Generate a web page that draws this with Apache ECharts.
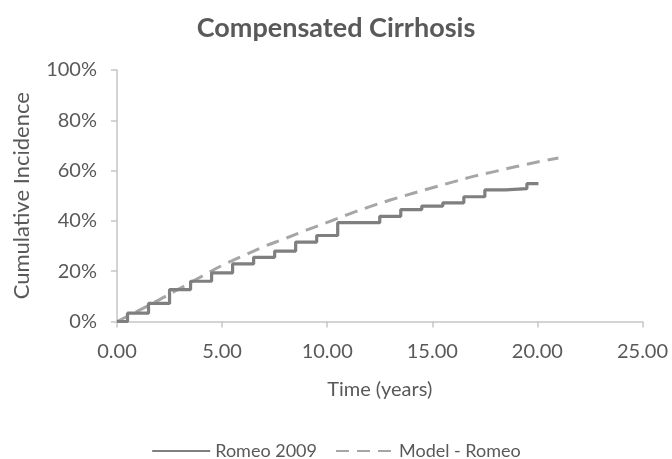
<!DOCTYPE html>
<html>
<head>
<meta charset="utf-8">
<script src="https://cdn.jsdelivr.net/npm/echarts@6/dist/echarts.min.js"></script>
<style>
  html, body { margin: 0; padding: 0; background: #fff; }
  #chart { width: 672px; height: 459px; }
</style>
</head>
<body>
<div id="chart"></div>
<script>
// Kaplan-Meier style step data: time of each event (years) and cumulative incidence (%) after it
const romeoTimes  = [0, 0.5, 1.5, 2.5, 3.5, 4.5, 5.5, 6.5, 7.5, 8.5, 9.5, 10.5, 12.5, 13.5, 14.5, 15.5, 16.5, 17.5, 18.5, 19.5, 20.05];
const romeoValues = [0, 3.3, 7.2, 12.7, 16.0, 19.3, 22.9, 25.5, 28.0, 31.6, 34.2, 39.3, 41.8, 44.5, 45.9, 47.2, 49.6, 52.3, 52.8, 54.8, 54.8];

// Model prediction, evaluated yearly
const modelTimes  = [0, 1, 2, 3, 4, 5, 6, 7, 8, 9, 10, 11, 12, 13, 14, 15, 16, 17, 18, 19, 20, 21];
const modelValues = [0, 4.2, 8.6, 13.2, 17.8, 22.3, 26.1, 29.8, 33.0, 36.3, 39.4, 42.6, 45.6, 48.3, 50.8, 53.2, 55.5, 57.8, 59.7, 61.6, 63.4, 65.0];

const seriesNames = ['Romeo 2009', 'Model - Romeo'];
const yTicks = { min: 0, max: 100, step: 20 };
const xTicks = { min: 0, max: 25, step: 5 };

const zip = (xs, ys) => xs.map((x, i) => [x, ys[i]]);

const textColor = '#595959';
const axisColor = '#c6c6c6';
const fontFamily = 'Lato, "Open Sans", sans-serif';

const chart = echarts.init(document.getElementById('chart'));
chart.setOption({
  animation: false,
  backgroundColor: '#ffffff',
  textStyle: { fontFamily: fontFamily, color: textColor },
  title: {
    text: 'Compensated Cirrhosis',
    left: 'center',
    top: 10,
    textStyle: { fontFamily: fontFamily, fontSize: 27, fontWeight: 'bold', color: textColor }
  },
  grid: { left: 117, right: 29.5, top: 70, bottom: 137.5 },
  legend: {
    data: seriesNames,
    left: 'center',
    top: 437,
    itemWidth: 58,
    itemHeight: 14,
    itemGap: 18,
    itemStyle: { opacity: 0 },
    textStyle: { fontFamily: fontFamily, fontSize: 18, color: textColor }
  },
  xAxis: {
    type: 'value',
    min: xTicks.min,
    max: xTicks.max,
    interval: xTicks.step,
    name: 'Time (years)',
    nameLocation: 'middle',
    nameGap: 58,
    nameTextStyle: { fontFamily: fontFamily, fontSize: 20, color: textColor },
    axisLine: { show: true, lineStyle: { color: axisColor, width: 1.5 } },
    axisTick: { show: true, length: 6, lineStyle: { color: axisColor, width: 1.5 } },
    axisLabel: { fontFamily: fontFamily, fontSize: 20, color: textColor, margin: 20,
                 formatter: v => v.toFixed(2) },
    splitLine: { show: false }
  },
  yAxis: {
    type: 'value',
    min: yTicks.min,
    max: yTicks.max,
    interval: yTicks.step,
    name: 'Cumulative Incidence',
    nameLocation: 'middle',
    nameRotate: 90,
    nameGap: 84,
    nameTextStyle: { fontFamily: fontFamily, fontSize: 22, color: textColor },
    axisLine: { show: true, lineStyle: { color: axisColor, width: 1.5 } },
    axisTick: { show: true, length: 6, lineStyle: { color: axisColor, width: 1.5 } },
    axisLabel: { fontFamily: fontFamily, fontSize: 20, color: textColor, margin: 20,
                 formatter: '{value}%' },
    splitLine: { show: false }
  },
  series: [
    {
      name: seriesNames[0],
      type: 'line',
      step: 'end',
      data: zip(romeoTimes, romeoValues),
      showSymbol: false,
      symbol: 'none',
      lineStyle: { color: '#7f7f7f', width: 3.2 },
      itemStyle: { color: '#7f7f7f' },
      z: 3
    },
    {
      name: seriesNames[1],
      type: 'line',
      smooth: true,
      data: zip(modelTimes, modelValues),
      showSymbol: false,
      symbol: 'none',
      lineStyle: { color: '#a6a6a6', width: 3, type: [13, 8] },
      itemStyle: { color: '#a6a6a6' },
      z: 2
    }
  ]
});
</script>
</body>
</html>
